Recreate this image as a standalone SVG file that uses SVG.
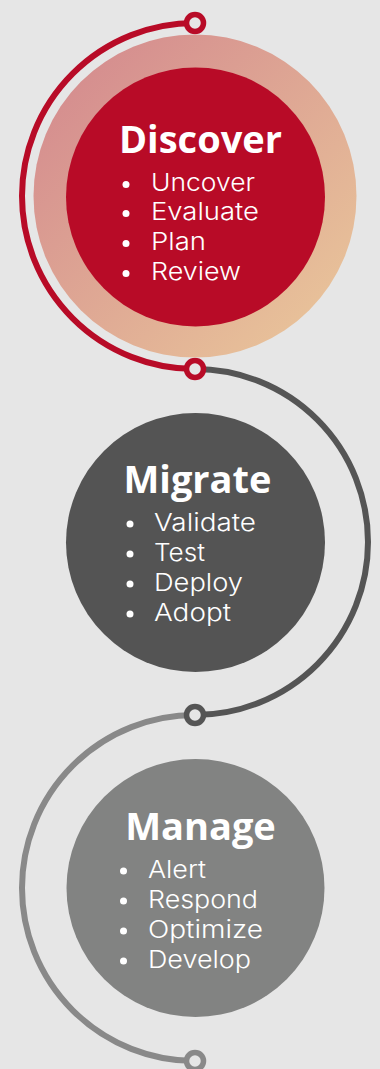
<svg xmlns="http://www.w3.org/2000/svg" width="380" height="1069" viewBox="0 0 380 1069">
<defs>
<linearGradient id="ringGrad" x1="0" y1="0" x2="1" y2="1">
<stop offset="0" stop-color="#d2858d"/>
<stop offset="1" stop-color="#ebca9b"/>
</linearGradient>
<style>
.title{font-family:"Open Sans","Liberation Sans",sans-serif;font-weight:700;font-size:38px;fill:#ffffff;text-anchor:middle}
.item{font-family:Inter,"Noto Sans","Liberation Sans",sans-serif;font-weight:300;font-size:24px;fill:#ffffff}
.bullet{fill:#ffffff}
.arc{fill:none;stroke-width:6}
.knob{fill:#e6e6e6;stroke-width:5.5}
</style>
</defs>
<rect width="380" height="1069" fill="#e6e6e6"/>
<g id="connectors">
<path class="arc" d="M195,23 A173,173 0 0 0 195,369" stroke="#b80b27"/>
<path class="arc" d="M195,369 A173,173 0 0 1 195,715" stroke="#555555"/>
<path class="arc" d="M195,715 A173,173 0 0 0 195,1061" stroke="#898989"/>
<circle class="knob" cx="195" cy="23" r="8.5" stroke="#b80b27"/>
<circle class="knob" cx="195" cy="369" r="8.5" stroke="#b80b27"/>
<circle class="knob" cx="195" cy="715" r="8.5" stroke="#555555"/>
<circle class="knob" cx="195" cy="1061" r="8.5" stroke="#898989"/>
</g>
<g id="discover">
<circle cx="195" cy="196" r="161.5" fill="url(#ringGrad)"/>
<circle cx="195.5" cy="197" r="129.5" fill="#b80b27"/>
<text class="title" x="200.5" y="153">Discover</text>
<circle class="bullet" cx="126" cy="184.5" r="3.5"/>
<circle class="bullet" cx="126" cy="213.5" r="3.5"/>
<circle class="bullet" cx="126" cy="243.5" r="3.5"/>
<circle class="bullet" cx="126" cy="273.5" r="3.5"/>
<text class="item" x="151" y="190.5" textLength="104" lengthAdjust="spacingAndGlyphs">Uncover</text>
<text class="item" x="151" y="220" textLength="108" lengthAdjust="spacingAndGlyphs">Evaluate</text>
<text class="item" x="151" y="250" textLength="55" lengthAdjust="spacingAndGlyphs">Plan</text>
<text class="item" x="151" y="280" textLength="90" lengthAdjust="spacingAndGlyphs">Review</text>
</g>
<g id="migrate">
<circle cx="195.5" cy="542.5" r="129.5" fill="#545454"/>
<text class="title" x="197.5" y="492.5">Migrate</text>
<circle class="bullet" cx="130" cy="524" r="3.5"/>
<circle class="bullet" cx="130" cy="554" r="3.5"/>
<circle class="bullet" cx="130" cy="584" r="3.5"/>
<circle class="bullet" cx="130" cy="614" r="3.5"/>
<text class="item" x="154" y="530.5" textLength="102" lengthAdjust="spacingAndGlyphs">Validate</text>
<text class="item" x="154" y="560.5" textLength="51" lengthAdjust="spacingAndGlyphs">Test</text>
<text class="item" x="154" y="590.5" textLength="89" lengthAdjust="spacingAndGlyphs">Deploy</text>
<text class="item" x="154" y="620.5" textLength="77" lengthAdjust="spacingAndGlyphs">Adopt</text>
</g>
<g id="manage">
<circle cx="195.5" cy="888" r="129" fill="#828382"/>
<text class="title" x="200.5" y="840">Manage</text>
<circle class="bullet" cx="123.5" cy="871" r="3.5"/>
<circle class="bullet" cx="123.5" cy="901" r="3.5"/>
<circle class="bullet" cx="123.5" cy="931" r="3.5"/>
<circle class="bullet" cx="123.5" cy="961" r="3.5"/>
<text class="item" x="148" y="877.5" textLength="58" lengthAdjust="spacingAndGlyphs">Alert</text>
<text class="item" x="148" y="907.5" textLength="110" lengthAdjust="spacingAndGlyphs">Respond</text>
<text class="item" x="148" y="937.5" textLength="115" lengthAdjust="spacingAndGlyphs">Optimize</text>
<text class="item" x="148" y="967.5" textLength="103" lengthAdjust="spacingAndGlyphs">Develop</text>
</g>
</svg>
